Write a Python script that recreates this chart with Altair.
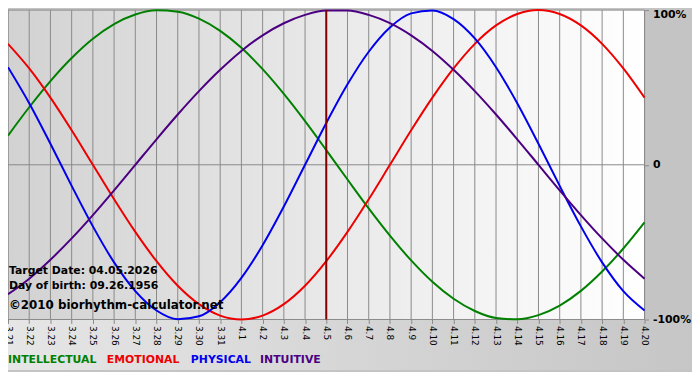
import altair as alt
import pandas as pd

dates = ["3.21", "3.22", "3.23", "3.24", "3.25", "3.26", "3.27", "3.28", "3.29", "3.30", "3.31",
         "4.1", "4.2", "4.3", "4.4", "4.5", "4.6", "4.7", "4.8", "4.9", "4.10",
         "4.11", "4.12", "4.13", "4.14", "4.15", "4.16", "4.17", "4.18", "4.19", "4.20"]

intellectual = [0.189, 0.372, 0.541, 0.690, 0.815, 0.910, 0.972, 0.999, 0.990, 0.945, 0.866,
                0.756, 0.618, 0.458, 0.282, 0.095, -0.095, -0.282, -0.458, -0.618, -0.756,
                -0.866, -0.945, -0.990, -0.999, -0.972, -0.910, -0.815, -0.690, -0.541, -0.372]
emotional = [0.782, 0.623, 0.434, 0.223, 0.0, -0.223, -0.434, -0.623, -0.782, -0.901, -0.975,
             -1.0, -0.975, -0.901, -0.782, -0.623, -0.434, -0.223, 0.0, 0.223, 0.434,
             0.623, 0.782, 0.901, 0.975, 1.0, 0.975, 0.901, 0.782, 0.623, 0.434]
physical = [0.631, 0.398, 0.136, -0.136, -0.398, -0.631, -0.817, -0.942, -0.998, -0.979, -0.888,
            -0.731, -0.520, -0.270, 0.0, 0.270, 0.520, 0.731, 0.888, 0.979, 0.998,
            0.942, 0.817, 0.631, 0.398, 0.136, -0.136, -0.398, -0.631, -0.817, -0.942]
intuitive = [-0.837, -0.736, -0.614, -0.476, -0.325, -0.165, 0.0, 0.165, 0.325, 0.476, 0.614,
             0.736, 0.837, 0.915, 0.969, 0.997, 0.997, 0.969, 0.916, 0.837, 0.736,
             0.614, 0.476, 0.325, 0.165, 0.0, -0.165, -0.325, -0.476, -0.614, -0.736]

series_names = ["INTELLECTUAL", "EMOTIONAL", "PHYSICAL", "INTUITIVE"]
series_colors = ["#008000", "#ee0000", "#0000ee", "#4b0082"]
target_date = "4.5"
y_ticks = [-1, 0, 1]
info_lines = ["Target Date: 04.05.2026", "Day of birth: 09.26.1956", "\u00a92010 biorhythm-calculator.net"]

W, H = 644, 313
TOTAL_W, TOTAL_H = 692, 364
FONT = "DejaVu Sans"
GRID = "#8a8a8a"

rows = []
for name, vals in zip(series_names, [intellectual, emotional, physical, intuitive]):
    for d, v in zip(dates, vals):
        rows.append({"date": d, "series": name, "value": v})
df = pd.DataFrame(rows)
grid_df = pd.DataFrame({"date": dates})
target_df = pd.DataFrame({"date": [target_date]})
one = pd.DataFrame({"a": [0]})

xscale = alt.Scale(type="point", padding=0, domain=dates)
yscale = alt.Scale(domain=[-1, 1], nice=False, zero=False)

x_axis = alt.Axis(title=None, labelAngle=90, labelFontSize=9, labelFont=FONT,
                  labelColor="black", tickSize=4, tickColor=GRID, domain=False,
                  grid=False, labelPadding=2, labelOverlap=False, zindex=2)
y_axis = alt.Axis(orient="right", values=y_ticks, title=None,
                  labelExpr="datum.value == 1 ? '100%' : datum.value == 0 ? '0' : '-100%'",
                  labelFontWeight="bold", labelFontSize=11, labelFont=FONT,
                  labelColor="black", tickSize=4, tickColor=GRID, domain=False,
                  grid=False, labelPadding=4, zindex=2,
                  labelOffset=alt.condition("datum.value == 1", alt.value(4), alt.value(0)))

X = alt.X("date:O", scale=xscale, axis=x_axis)
Y0 = alt.Y("value:Q", scale=yscale, axis=y_axis)

# bottom band background
bottom_bg = alt.Chart(one).mark_rect(
    fill=alt.Gradient(gradient="linear",
                      stops=[alt.GradientStop(color="#e6e6e6", offset=0),
                             alt.GradientStop(color="#c6c6c6", offset=1)],
                      x1=0, x2=1, y1=0, y2=0)
).encode(x=alt.value(0), x2=alt.value(TOTAL_W), y=alt.value(H), y2=alt.value(TOTAL_H))

# plot area background with border
plot_bg = alt.Chart(one).mark_rect(
    fill=alt.Gradient(gradient="linear",
                      stops=[alt.GradientStop(color="#d2d2d2", offset=0),
                             alt.GradientStop(color="#ffffff", offset=1)],
                      x1=0, x2=1, y1=0, y2=0),
    stroke=GRID, strokeWidth=1
).encode(x=alt.value(0), x2=alt.value(W), y=alt.value(0), y2=alt.value(H))

grid = alt.Chart(grid_df).mark_rule(color=GRID, strokeWidth=1).encode(x=X)

zero_line = alt.Chart(one).mark_rule(color=GRID, strokeWidth=1).encode(
    y=alt.datum(0, scale=yscale, axis=y_axis)
)

lines = alt.Chart(df).mark_line(strokeWidth=2, interpolate="monotone").encode(
    x=X,
    y=Y0,
    color=alt.Color("series:N", scale=alt.Scale(domain=series_names, range=series_colors), legend=None),
)

target = alt.Chart(target_df).mark_rule(color="#800000", strokeWidth=2).encode(x=X)

layers = [bottom_bg, plot_bg, grid, zero_line, lines, target]

info_y = [264, 279, 298.5]
info_size = [11, 11, 12]
for txt, yy, fs in zip(info_lines, info_y, info_size):
    layers.append(alt.Chart(one).mark_text(
        align="left", baseline="middle", font=FONT, fontWeight="bold", fontSize=fs, color="black"
    ).encode(x=alt.value(1), y=alt.value(yy), text=alt.value(txt)))

legend_x = [0, 100, 185, 255]
for name, col, xx in zip(series_names, series_colors, legend_x):
    layers.append(alt.Chart(one).mark_text(
        align="left", baseline="middle", font=FONT, fontWeight="bold", fontSize=11, color=col
    ).encode(x=alt.value(xx), y=alt.value(354), text=alt.value(name)))

chart = alt.layer(*layers).properties(
    width=W, height=H,
    autosize=alt.AutoSizeParams(type="none"),
    padding={"left": 0, "top": 0, "right": TOTAL_W - W, "bottom": TOTAL_H - H},
).configure(background="#c4c4c4").configure_view(stroke=None)

chart.save("out.html", embed_options={"renderer": "svg", "actions": False})
